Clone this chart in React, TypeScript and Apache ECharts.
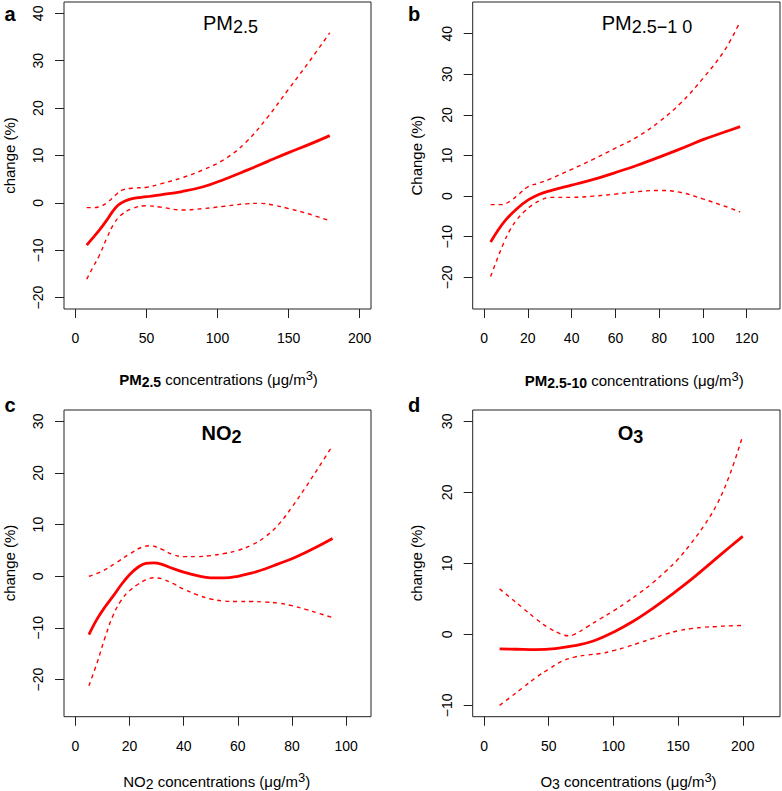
import React, { useEffect, useRef } from 'react';
import * as echarts from 'echarts';

// ---- Panel a: PM2.5 ----
const aFitX = [8, 12, 17, 22, 26, 30, 35, 40, 50, 60, 75, 90, 105, 120, 135, 150, 165, 179];
const aFitY = [-8.9, -7.5, -5.7, -3.7, -1.9, -0.5, 0.4, 0.9, 1.3, 1.7, 2.4, 3.4, 5.0, 6.8, 8.7, 10.6, 12.4, 14.2];
const aUpX = [8, 13, 18, 23, 28, 33, 40, 50, 60, 75, 90, 105, 120, 135, 150, 165, 179];
const aUpY = [-1.0, -1.0, -0.7, 0.2, 1.6, 2.7, 3.1, 3.3, 4.0, 5.3, 7.0, 9.2, 12.8, 18.0, 24.0, 30.0, 35.9];
const aLoX = [8, 12, 17, 22, 27, 32, 40, 50, 60, 75, 90, 105, 120, 130, 140, 150, 165, 179];
const aLoY = [-16.1, -13.8, -11.0, -7.5, -4.5, -2.6, -1.2, -0.6, -0.9, -1.5, -1.2, -0.7, -0.2, -0.1, -0.5, -1.2, -2.4, -3.8];

// ---- Panel b: PM2.5-10 ----
const bFitX = [3, 6, 10, 15, 20, 25, 30, 40, 50, 60, 70, 80, 90, 100, 110, 117];
const bFitY = [-11.3, -8.7, -5.8, -3.1, -1.0, 0.4, 1.3, 2.7, 4.1, 5.8, 7.6, 9.6, 11.7, 13.9, 15.8, 17.1];
const bUpX = [3, 8, 12, 16, 20, 25, 30, 40, 50, 60, 70, 80, 90, 100, 110, 117];
const bUpY = [-2.1, -2.1, -1.2, 0.5, 2.3, 3.2, 4.2, 6.6, 9.1, 11.8, 14.6, 18.3, 23.0, 29.0, 36.0, 43.0];
const bLoX = [3, 6, 9, 12, 15, 18, 22, 26, 30, 40, 50, 60, 70, 80, 90, 100, 110, 117];
const bLoY = [-19.8, -15.5, -11.5, -8.2, -5.8, -4.0, -2.2, -1.0, -0.3, -0.3, 0.0, 0.5, 1.1, 1.4, 0.9, -0.7, -2.5, -3.9];

// ---- Panel c: NO2 ----
const cFitX = [5, 8, 11, 14, 17, 20, 23, 26, 29, 32, 36, 40, 45, 50, 55, 60, 65, 70, 75, 80, 85, 90, 95];
const cFitY = [-11.3, -8.3, -5.9, -3.8, -1.6, 0.3, 1.7, 2.5, 2.6, 2.3, 1.5, 0.8, 0.1, -0.3, -0.3, 0.0, 0.6, 1.4, 2.4, 3.4, 4.6, 5.9, 7.3];
const cUpX = [5, 10, 15, 20, 25, 28, 32, 36, 40, 45, 50, 55, 60, 65, 70, 75, 80, 85, 90, 95];
const cUpY = [0.0, 1.0, 2.6, 4.3, 5.7, 5.9, 5.2, 4.2, 3.8, 3.8, 4.0, 4.4, 5.0, 6.0, 7.6, 10.0, 13.4, 17.2, 21.2, 25.3];
const cLoX = [5, 8, 11, 14, 17, 20, 23, 26, 29, 32, 36, 40, 45, 50, 55, 60, 65, 70, 75, 80, 85, 90, 95];
const cLoY = [-21.2, -16.8, -11.8, -7.5, -4.6, -2.8, -1.6, -0.7, -0.3, -0.5, -1.4, -2.5, -3.6, -4.4, -4.8, -4.9, -4.9, -5.0, -5.2, -5.7, -6.4, -7.2, -8.0];

// ---- Panel d: O3 ----
const dFitX = [12, 25, 40, 55, 70, 85, 100, 115, 130, 145, 160, 175, 190, 200];
const dFitY = [-2.05, -2.1, -2.15, -2.0, -1.6, -0.9, 0.3, 1.8, 3.6, 5.6, 7.7, 10.0, 12.3, 13.8];
const dUpX = [12, 20, 30, 40, 50, 60, 65, 70, 80, 90, 100, 110, 120, 130, 140, 150, 160, 170, 180, 190, 200];
const dUpY = [6.4, 5.2, 3.7, 2.2, 0.9, 0.0, -0.2, 0.0, 1.1, 2.2, 3.3, 4.5, 5.8, 7.2, 8.8, 10.6, 12.8, 15.3, 18.3, 22.5, 28.0];
const dLoX = [12, 20, 30, 40, 50, 60, 70, 80, 90, 100, 110, 120, 130, 140, 150, 160, 170, 180, 190, 200];
const dLoY = [-10.0, -8.9, -7.5, -6.1, -4.9, -3.8, -3.2, -2.9, -2.7, -2.3, -1.8, -1.2, -0.6, 0.0, 0.5, 0.8, 1.0, 1.1, 1.2, 1.25];

// ---- Tick labels ----
const aXTicks = [0, 50, 100, 150, 200];
const aYTicks = [-20, -10, 0, 10, 20, 30, 40];
const bXTicks = [0, 20, 40, 60, 80, 100, 120];
const bYTicks = [-20, -10, 0, 10, 20, 30, 40];
const cXTicks = [0, 20, 40, 60, 80, 100];
const cYTicks = [-20, -10, 0, 10, 20, 30];
const dXTicks = [0, 50, 100, 150, 200];
const dYTicks = [-10, 0, 10, 20, 30];

const FONT = "'Liberation Sans', Arial, Helvetica, sans-serif";
const RED = '#ff0000';

const zip = (xs: number[], ys: number[]) => xs.map((x, i) => [x, ys[i]]);
const fmt = (v: number) => (v < 0 ? '\u2212' + Math.abs(v) : String(v));

export default function App() {
  const ref = useRef<HTMLDivElement>(null);
  useEffect(() => {
    if (!ref.current) return;
    const chart = echarts.init(ref.current, undefined, { renderer: 'svg' });

    const grids = [
      { left: 64, top: 2, width: 307, height: 307 },
      { left: 472.7, top: 2, width: 307.3, height: 307 },
      { left: 64, top: 410, width: 307, height: 306.7 },
      { left: 472.7, top: 410, width: 307.3, height: 306.7 },
    ].map((g) => ({ ...g, show: true, borderColor: '#222', borderWidth: 1, backgroundColor: 'transparent' }));

    const xRanges = [
      [-8, 208, aXTicks],
      [-5.2, 135.2, bXTicks],
      [-4.2, 109.2, cXTicks],
      [-8.8, 228.8, dXTicks],
    ] as [number, number, number[]][];
    const yRanges = [
      [-22.4, 42.4, aYTicks],
      [-27.8, 47.8, bYTicks],
      [-27.2, 32.2, cYTicks],
      [-11.6, 31.6, dYTicks],
    ] as [number, number, number[]][];

    const xAxis = xRanges.map(([min, max, ticks], i) => ({
      type: 'value',
      gridIndex: i,
      position: 'bottom',
      min,
      max,
      splitLine: { show: false },
      axisLine: { show: false, onZero: false },
      axisTick: { show: true, customValues: ticks, length: 9, lineStyle: { color: '#222', width: 1 } },
      axisLabel: {
        customValues: ticks,
        margin: 22,
        fontSize: 14,
        fontFamily: FONT,
        color: '#000',
        formatter: (v: number) => fmt(v),
      },
    }));
    const yAxis = yRanges.map(([min, max, ticks], i) => ({
      type: 'value',
      gridIndex: i,
      position: 'left',
      min,
      max,
      splitLine: { show: false },
      axisLine: { show: false, onZero: false },
      axisTick: { show: true, customValues: ticks, length: 9, lineStyle: { color: '#222', width: 1 } },
      axisLabel: {
        customValues: ticks,
        rotate: 90,
        margin: 19,
        fontSize: 14,
        fontFamily: FONT,
        color: '#000',
        formatter: (v: number) => fmt(v),
      },
    }));

    const panels = [
      [aFitX, aFitY, aUpX, aUpY, aLoX, aLoY],
      [bFitX, bFitY, bUpX, bUpY, bLoX, bLoY],
      [cFitX, cFitY, cUpX, cUpY, cLoX, cLoY],
      [dFitX, dFitY, dUpX, dUpY, dLoX, dLoY],
    ];
    const series: any[] = [];
    panels.forEach((p, i) => {
      series.push({
        type: 'line', xAxisIndex: i, yAxisIndex: i, data: zip(p[0], p[1]), smooth: 0.4,
        showSymbol: false, symbol: 'none', lineStyle: { color: RED, width: 2.8 }, z: 3,
      });
      series.push({
        type: 'line', xAxisIndex: i, yAxisIndex: i, data: zip(p[2], p[3]), smooth: 0.4,
        showSymbol: false, symbol: 'none', lineStyle: { color: RED, width: 1.4, type: [4, 4] },
      });
      series.push({
        type: 'line', xAxisIndex: i, yAxisIndex: i, data: zip(p[4], p[5]), smooth: 0.4,
        showSymbol: false, symbol: 'none', lineStyle: { color: RED, width: 1.4, type: [4, 4] },
      });
    });

    const txt = (x: number, y: number, text: string, extra: any = {}, rotation = 0) => ({
      type: 'text',
      x,
      y,
      rotation,
      silent: true,
      style: {
        text,
        fill: '#000',
        fontFamily: FONT,
        fontSize: 15,
        align: 'center',
        verticalAlign: 'middle',
        ...extra,
      },
    });

    const titleRich = (bold: boolean) => ({
      b: { fontSize: 20, lineHeight: 26, fontWeight: bold ? 'bold' : 'normal', fontFamily: FONT, fill: '#000' },
      s: { fontSize: 18, lineHeight: 19, verticalAlign: 'bottom', fontWeight: bold ? 'bold' : 'normal', fontFamily: FONT, fill: '#000' },
    });
    const axisRich = (bold: boolean) => ({
      b: { fontSize: 15, lineHeight: 20, fontWeight: bold ? 'bold' : 'normal', fontFamily: FONT, fill: '#000' },
      s: { fontSize: 14, lineHeight: 14, verticalAlign: 'bottom', fontWeight: bold ? 'bold' : 'normal', fontFamily: FONT, fill: '#000' },
      n: { fontSize: 15, lineHeight: 20, fontFamily: FONT, fill: '#000' },
      sup: { fontSize: 13, lineHeight: 8, verticalAlign: 'top', fontFamily: FONT, fill: '#000' },
    });

    const graphic = [
      // panel letters
      txt(10, 14, 'a', { fontSize: 20, fontWeight: 'bold' }),
      txt(414, 14, 'b', { fontSize: 20, fontWeight: 'bold' }),
      txt(10, 405, 'c', { fontSize: 20, fontWeight: 'bold' }),
      txt(414, 405, 'd', { fontSize: 20, fontWeight: 'bold' }),
      // panel titles
      txt(230.5, 22.5, '{b|PM}{s|2.5}', { rich: titleRich(false) }),
      txt(647, 22.5, '{b|PM}{s|2.5\u22121 0}', { rich: titleRich(false) }),
      txt(221.5, 432.5, '{b|NO}{s|2}', { rich: titleRich(true) }),
      txt(630.5, 432.5, '{b|O}{s|3}', { rich: titleRich(true) }),
      // x axis titles
      txt(218.5, 379, '{b|PM}{s|2.5}{n| concentrations (\u03bcg/m}{sup|3}{n|)}', { rich: axisRich(true) }),
      txt(634.3, 380, '{b|PM}{s|2.5-10}{n| concentrations (\u03bcg/m}{sup|3}{n|)}', { rich: axisRich(true) }),
      txt(216.7, 781, '{b|NO}{s|2}{n| concentrations (\u03bcg/m}{sup|3}{n|)}', { rich: axisRich(false) }),
      txt(628.5, 781, '{b|O}{s|3}{n| concentrations (\u03bcg/m}{sup|3}{n|)}', { rich: axisRich(false) }),
      // y axis titles
      txt(9, 155.5, 'change (%)', {}, Math.PI / 2),
      txt(416, 155.5, 'Change (%)', {}, Math.PI / 2),
      txt(9, 563, 'change (%)', {}, Math.PI / 2),
      txt(416, 563, 'change (%)', {}, Math.PI / 2),
    ];

    chart.setOption({
      animation: false,
      backgroundColor: '#fff',
      textStyle: { fontFamily: FONT },
      grid: grids,
      xAxis,
      yAxis,
      series,
      graphic,
    });
    return () => chart.dispose();
  }, []);

  return (
    <div
      ref={ref}
      style={{ position: 'absolute', left: 0, top: 0, width: 782, height: 791, background: '#fff' }}
    />
  );
}
